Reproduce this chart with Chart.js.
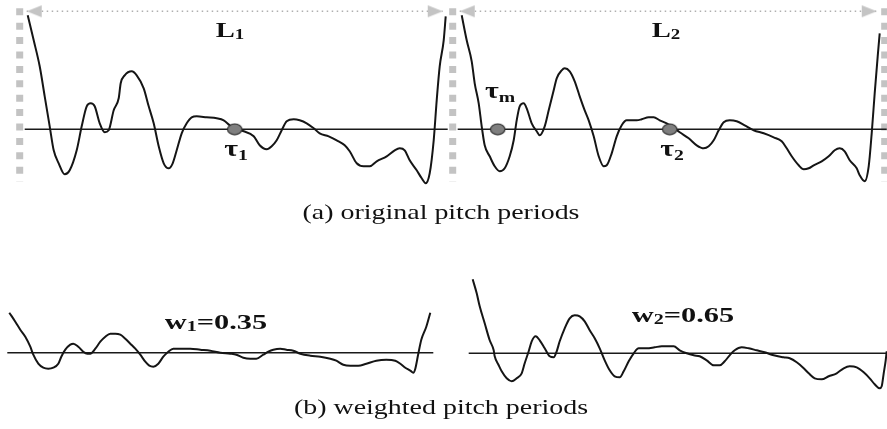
<!DOCTYPE html>
<html>
<head>
<meta charset="utf-8">
<script src="https://cdn.jsdelivr.net/npm/chart.js@4.4.1/dist/chart.umd.min.js"></script>
<style>
  html, body { margin: 0; padding: 0; background: #fff; }
  #wrap { position: relative; width: 887px; height: 429px; overflow: hidden; }
  #pitchChart { position: absolute; left: 0; top: 0; }
  .lbl { position: absolute; font-family: "Liberation Serif", "Times New Roman", serif; color: #111; white-space: nowrap; transform: translate(-50%, -50%) scaleX(1.3); line-height: 1; }
  .bold { font-weight: bold; }
  .lbl sub { font-size: 0.66em; vertical-align: -0.12em; line-height: 0; }
  .tau sub { vertical-align: -0.3em; }
  .wide { transform: translate(-50%, -50%) scaleX(1.38); }
  .cap { font-size: 22px; transform: translate(-50%, -50%) scaleX(1.27); }
</style>
</head>
<body>
<div id="wrap">
  <canvas id="pitchChart" width="887" height="429"></canvas>
  <div class="lbl bold" id="lblL1" style="left:230px; top:30px; font-size:22px;">L<sub>1</sub></div>
  <div class="lbl bold" id="lblL2" style="left:666px; top:30px; font-size:22px;">L<sub>2</sub></div>
  <div class="lbl bold tau" id="lblT1" style="left:236px; top:148px; font-size:23px;">τ<sub>1</sub></div>
  <div class="lbl bold tau" id="lblTm" style="left:500px; top:90px; font-size:23px;">τ<sub>m</sub></div>
  <div class="lbl bold tau" id="lblT2" style="left:672px; top:148px; font-size:23px;">τ<sub>2</sub></div>
  <div class="lbl bold wide" id="lblW1" style="left:216px; top:322px; font-size:22px;"></div>
  <div class="lbl bold wide" id="lblW2" style="left:683px; top:315px; font-size:22px;"></div>
  <div class="lbl cap" style="left:441px; top:212px;">(a) original pitch periods</div>
  <div class="lbl cap" style="left:441px; top:407px;">(b) weighted pitch periods</div>
</div>
<script>
// original pitch period 1 : [time, amplitude]
const waveL1 = [[0,114],[6,89],[12,63],[17,33],[22,3],[26,-21],[31,-34],[37,-45],[42,-41],[49,-21],[54,3],[59,23],[63,26],[67,23],[72,6],[77,-3],[81,-1],[86,19],[91,31],[93,46],[97,54],[104,58],[109,54],[116,41],[121,23],[126,6],[131,-17],[136,-34],[141,-39],[145,-34],[149,-21],[154,-4],[159,6],[164,12],[169,13],[179,12],[189,11],[196,9],[202,4],[207,0],[216,-2],[226,-7],[232,-16],[239,-20],[244,-17],[249,-11],[254,-1],[259,8],[266,10],[272,9],[279,6],[286,1],[292,-4],[301,-7],[309,-11],[317,-16],[322,-22],[329,-34],[336,-37],[342,-37],[349,-32],[359,-27],[367,-21],[372,-19],[377,-21],[382,-31],[389,-41],[394,-49],[398,-54],[402,-44],[406,-11],[409,29],[412,63],[416,89],[418,113]];

// original pitch period 2
const waveL2 = [[0,114],[5,89],[10,68],[13,46],[17,26],[20,3],[23,-16],[28,-27],[33,-37],[38,-42],[43,-39],[48,-27],[52,-11],[55,9],[58,23],[62,26],[65,21],[70,6],[75,-2],[78,-6],[83,3],[87,19],[92,39],[95,51],[100,59],[103,61],[108,58],[113,48],[118,33],[123,19],[127,9],[132,-7],[137,-27],[142,-37],[145,-36],[150,-24],[155,-7],[160,4],[165,9],[175,9],[180,10],[187,12],[192,12],[198,9],[205,6],[210,3],[218,-3],[227,-9],[235,-16],[242,-19],[247,-17],[252,-11],[257,-1],[262,7],[268,9],[275,8],[283,4],[292,-1],[302,-4],[312,-8],[320,-12],[325,-19],[330,-27],[337,-36],[342,-40],[347,-39],[352,-36],[360,-32],[367,-27],[373,-21],[378,-19],[383,-22],[388,-31],[395,-39],[398,-46],[403,-52],[407,-37],[410,-4],[413,36],[416,73],[418,96]];

// weighted pitch periods
const weightedW1 = [[0,40],[6,31],[11,23],[16,16],[21,6],[24,-2],[29,-11],[34,-15],[39,-16],[44,-15],[49,-11],[52,-4],[56,3],[61,8],[64,9],[69,6],[74,1],[78,-1],[81,-1],[86,4],[91,11],[96,16],[101,19],[106,19],[111,18],[116,14],[121,9],[126,4],[131,-2],[136,-9],[140,-13],[144,-14],[149,-11],[154,-4],[159,1],[164,4],[171,4],[181,4],[191,3],[201,2],[211,0],[221,-1],[227,-2],[234,-5],[241,-6],[247,-6],[254,-2],[259,1],[264,3],[271,4],[277,3],[284,2],[291,-1],[301,-3],[311,-4],[321,-6],[327,-8],[334,-12],[341,-13],[349,-13],[357,-11],[367,-8],[377,-7],[386,-8],[391,-11],[396,-15],[401,-18],[404,-20],[406,-16],[409,-1],[412,13],[417,26],[421,40]];
const weightedW2 = [[0,74],[4,60],[7,47],[12,30],[17,13],[21,3],[22,-3],[26,-12],[29,-18],[34,-25],[39,-28],[44,-25],[49,-20],[52,-10],[56,2],[59,12],[63,17],[67,13],[72,5],[77,-3],[81,-4],[84,2],[87,12],[92,25],[97,35],[102,38],[107,37],[112,32],[117,23],[122,15],[127,5],[132,-7],[137,-17],[142,-23],[147,-24],[151,-18],[156,-8],[161,0],[166,5],[174,5],[182,6],[189,7],[196,7],[201,7],[207,3],[214,0],[221,-2],[227,-3],[234,-7],[241,-12],[247,-12],[252,-8],[257,-2],[262,3],[269,6],[276,5],[284,3],[292,1],[301,-2],[311,-4],[317,-5],[324,-9],[331,-15],[336,-20],[342,-25],[349,-26],[356,-23],[364,-20],[371,-15],[377,-13],[384,-14],[391,-19],[397,-25],[402,-31],[407,-35],[409,-33],[411,-20],[413,-7],[414,2]];
const weights = [0.35, 0.65];

// zero lines [start, end] in time units
const zeroSpan1 = [-3, 420];
const zeroSpan2 = [-4, 425];
const zeroSpanW1 = [-2, 424];
const zeroSpanW2 = [-4, 414];

// tau_1 on period 1, tau_m and tau_2 on period 2
const markers1 = [207];
const markers2 = [36, 208];

// period boundaries (dotted frame) and L arrows, time units
const bounds1 = [-8, 425];
const bounds2 = [423];
const frameAmp = [121, -52];
const arrow1 = [-1, 415];
const arrow2 = [-2, 415];
const arrowAmp = 118;

document.getElementById('lblW1').innerHTML = 'w<sub>1</sub>=' + weights[0].toFixed(2);
document.getElementById('lblW2').innerHTML = 'w<sub>2</sub>=' + weights[1].toFixed(2);

function toPts(arr) {
  return arr.map(function(p) { return {x: p[0], y: p[1]}; });
}

function spanPts(span, amp) {
  return [{x: span[0], y: amp}, {x: span[1], y: amp}];
}

/* little canvases used as point styles */
function ellipseMarker() {
  var c = document.createElement('canvas');
  c.width = 17; c.height = 13;
  var g = c.getContext('2d');
  g.beginPath();
  g.ellipse(8.5, 6.5, 7.2, 5.3, 0, 0, Math.PI * 2);
  g.fillStyle = '#7f7f7f';
  g.fill();
  g.lineWidth = 1.2;
  g.strokeStyle = '#333';
  g.stroke();
  return c;
}

function arrowHead(dir) {
  // tip sits in the middle of the canvas so the point is the tip
  var c = document.createElement('canvas');
  c.width = 32; c.height = 14;
  var g = c.getContext('2d');
  g.fillStyle = '#c4c4c4';
  g.beginPath();
  if (dir > 0) {
    g.moveTo(16, 7); g.lineTo(1, 1); g.lineTo(1, 13);
  } else {
    g.moveTo(16, 7); g.lineTo(31, 1); g.lineTo(31, 13);
  }
  g.closePath();
  g.fill();
  return c;
}

var dot = ellipseMarker();
var headL = arrowHead(-1);
var headR = arrowHead(1);

function waveSet(data, xs, ys) {
  return {
    data: toPts(data), xAxisID: xs, yAxisID: ys,
    showLine: true, borderColor: '#151515', borderWidth: 2,
    pointRadius: 0, cubicInterpolationMode: 'monotone', order: 2
  };
}

function zeroSet(span, xs, ys) {
  return {
    data: spanPts(span, 0), xAxisID: xs, yAxisID: ys,
    showLine: true, borderColor: '#1a1a1a', borderWidth: 1.4,
    pointRadius: 0, order: 3
  };
}

function frameSet(t, xs, ys) {
  return {
    data: [{x: t, y: frameAmp[0]}, {x: t, y: frameAmp[1]}], xAxisID: xs, yAxisID: ys,
    showLine: true, borderColor: '#c3c3c3', borderWidth: 7, borderDash: [7, 7.4],
    borderCapStyle: 'butt', pointRadius: 0, order: 4
  };
}

function arrowSet(span, xs, ys) {
  return {
    data: spanPts(span, arrowAmp), xAxisID: xs, yAxisID: ys,
    showLine: true, borderColor: '#b0b0b0', borderWidth: 1.5, borderDash: [1.5, 3.5],
    pointStyle: [headL, headR], pointRadius: 6, order: 4
  };
}

function markerSet(times, xs, ys) {
  return {
    data: times.map(function(t) { return {x: t, y: 0}; }), xAxisID: xs, yAxisID: ys,
    showLine: false, pointStyle: dot, pointRadius: 6, order: 1
  };
}

var datasets = [
  frameSet(bounds1[0], 'x1', 'y1'),
  frameSet(bounds1[1], 'x1', 'y1'),
  frameSet(bounds2[0], 'x2', 'y2'),
  arrowSet(arrow1, 'x1', 'y1'),
  arrowSet(arrow2, 'x2', 'y2'),
  zeroSet(zeroSpan1, 'x1', 'y1'),
  zeroSet(zeroSpan2, 'x2', 'y2'),
  zeroSet(zeroSpanW1, 'x3', 'y3'),
  zeroSet(zeroSpanW2, 'x4', 'y4'),
  waveSet(waveL1, 'x1', 'y1'),
  waveSet(waveL2, 'x2', 'y2'),
  waveSet(weightedW1, 'x3', 'y3'),
  waveSet(weightedW2, 'x4', 'y4'),
  markerSet(markers1, 'x1', 'y1'),
  markerSet(markers2, 'x2', 'y2')
];

// each panel gets its own hidden pair of axes, 1 unit = 1 px
function axis(min, max) {
  return { type: 'linear', display: false, min: min, max: max };
}

var config = {
  type: 'scatter',
  data: { datasets: datasets },
  options: {
    responsive: false,
    animation: false,
    events: [],
    layout: { padding: 0, autoPadding: false },
    plugins: { legend: { display: false }, tooltip: { enabled: false } },
    scales: {
      x1: axis(-27.7, 859.3), y1: axis(-299.7, 129.3),
      x2: axis(-461.7, 425.3), y2: axis(-299.7, 129.3),
      x3: axis(-9.3, 877.7), y3: axis(-76.3, 352.7),
      x4: axis(-472.7, 414.3), y4: axis(-75.7, 353.3)
    }
  }
};

var ctx = document.getElementById('pitchChart').getContext('2d');
window.pitchChart = new Chart(ctx, config);
</script>
</body>
</html>
